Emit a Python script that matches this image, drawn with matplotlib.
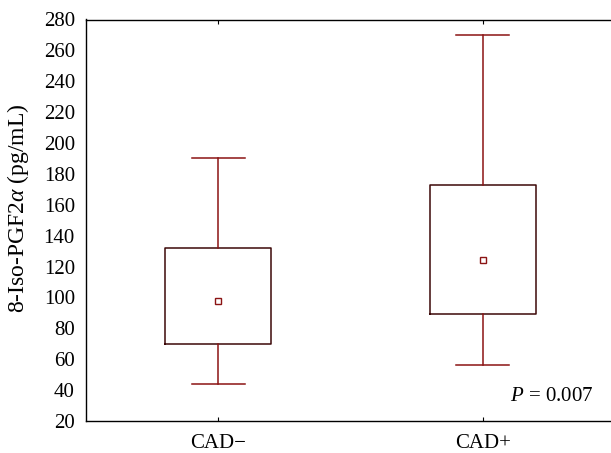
import matplotlib
matplotlib.use("Agg")
import matplotlib.pyplot as plt

categories = ["CAD\u2212", "CAD+"]
whisker_low = [44, 56]
q1 = [70, 89]
center = [98, 124]
q3 = [132, 173]
whisker_high = [190, 270]
yticks = list(range(20, 281, 20))

plt.rcParams['font.family'] = ['Liberation Serif', 'DejaVu Serif']
plt.rcParams['mathtext.fontset'] = 'custom'
plt.rcParams['mathtext.it'] = 'Liberation Serif:italic'
plt.rcParams['mathtext.rm'] = 'Liberation Serif'

fig = plt.figure(figsize=(6.11, 4.53), dpi=100)
ax = fig.add_axes([86/611, 1 - 421/453, (611 - 86)/611, (421 - 19.5)/453])

stats = []
for i, c in enumerate(categories):
    stats.append(dict(label=c, med=center[i], mean=center[i], q1=q1[i], q3=q3[i],
                      whislo=whisker_low[i], whishi=whisker_high[i], fliers=[]))

whisk_col = "#8b1414"
box_col = "#3c0808"
ax.bxp(stats, positions=[0, 1], widths=0.4, capwidths=0.2, showmeans=True,
       showfliers=False,
       boxprops=dict(color=box_col, linewidth=1.1),
       whiskerprops=dict(color=whisk_col, linewidth=1.1),
       capprops=dict(color=whisk_col, linewidth=1.1),
       medianprops=dict(linewidth=0),
       meanprops=dict(marker='s', markersize=5, markerfacecolor='white',
                      markeredgecolor=whisk_col, markeredgewidth=1.0))

ax.set_xlim(-0.5, 1.485)
ax.set_ylim(20, 280)
ax.set_yticks(yticks)
ax.set_xticks([0, 1])
ax.set_xticklabels(categories)
ax.spines['right'].set_visible(False)
for s in ['left', 'top', 'bottom']:
    ax.spines[s].set_linewidth(1.0)
    ax.spines[s].set_color('black')
ax.tick_params(axis='y', length=0, pad=8, labelsize=15)
ax.tick_params(axis='x', direction='in', length=3, pad=9, labelsize=15,
               top=True, bottom=True)
ax.set_ylabel(r"8-Iso-PGF2$\alpha$ (pg/mL)", fontsize=17)
ax.yaxis.set_label_coords(-0.105, 0.53)
ax.text(0.966, 35.7, r"$P$ = 0.007", transform=ax.get_yaxis_transform(),
        ha='right', va='center', fontsize=15)

fig.savefig("out.png", dpi=100)
